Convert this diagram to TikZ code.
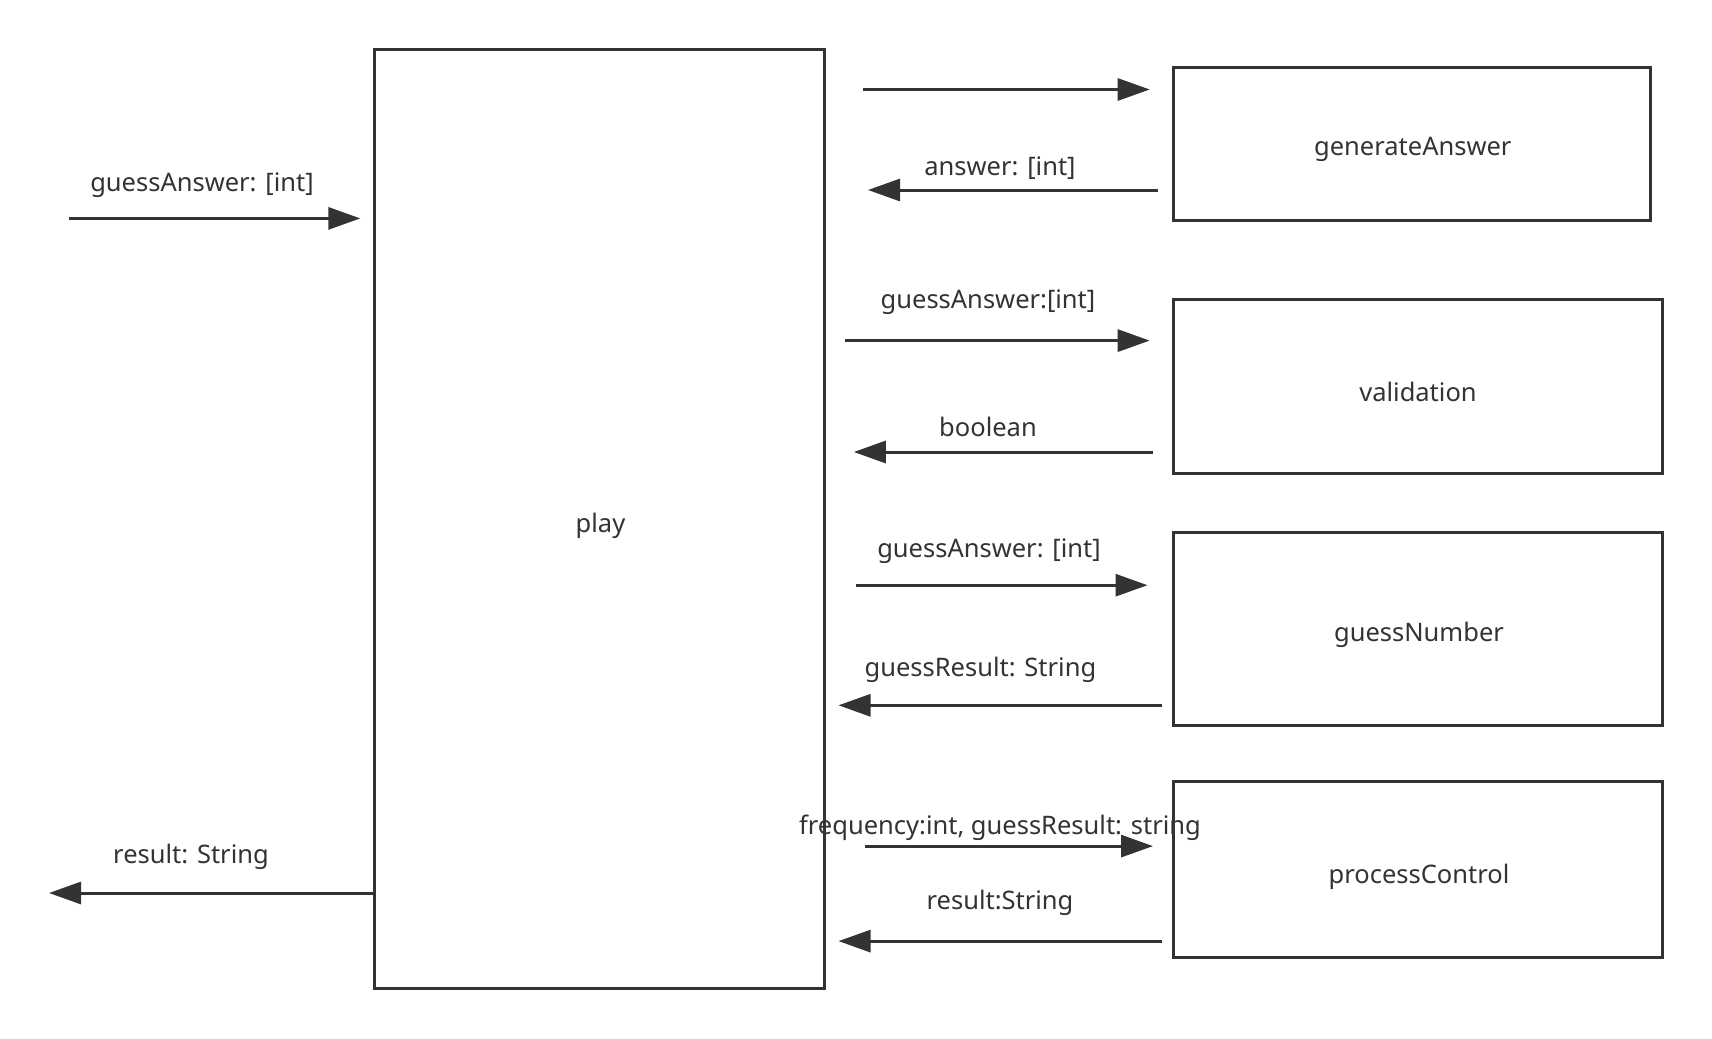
\documentclass[tikz,border=0pt]{standalone}
\usepackage{fontspec}
\setmainfont{Noto Sans}
\usetikzlibrary{arrows.meta}
\definecolor{ink}{HTML}{333333}
\begin{document}
\begin{tikzpicture}[x=1pt,y=-1pt,
  box/.style={draw=ink,line width=3pt,fill=none,inner sep=0pt,text=ink},
  flow/.style={draw=ink,line width=3pt,-{Triangle[length=32pt,width=22pt]}},
  lbl/.style={text=ink,inner sep=0pt,font=\fontsize{25.5}{30}\selectfont,yshift=-2.5pt}]
\useasboundingbox (0,0) rectangle (1712,1038);
% boxes
\node[box,minimum width=450pt,minimum height=939pt] (play) at (599.4,518.6) {};
\node[lbl] (playt) at (600.5,523) {play};
\node[box,minimum width=477pt,minimum height=153pt] (gen) at (1412.2,144.1) {};
\node[lbl] (gent) at (1412.8,147) {generateAnswer};
\node[box,minimum width=489pt,minimum height=174.6pt] (val) at (1418.2,386.5) {};
\node[lbl] (valt) at (1418,389.5) {validation};
\node[box,minimum width=489pt,minimum height=192.2pt] (gn) at (1418.2,628.9) {};
\node[lbl] (gnt) at (1419,632) {guessNumber};
\node[box,minimum width=489pt,minimum height=175.8pt] (pc) at (1418.2,869.6) {};
\node[lbl] (pct) at (1419,874) {processControl};
% arrow end points
\coordinate (inA) at (68.8,218.4);   \coordinate (inB) at (360.3,218.4);
\coordinate (g1a) at (862.5,89.5);   \coordinate (g1b) at (1149.7,89.5);
\coordinate (g2a) at (1158.4,190);   \coordinate (g2b) at (868,190);
\coordinate (v1a) at (845,340.6);    \coordinate (v1b) at (1149.7,340.6);
\coordinate (v2a) at (1153,452);     \coordinate (v2b) at (853.8,452);
\coordinate (n1a) at (856,585.2);    \coordinate (n1b) at (1147.5,585.2);
\coordinate (n2a) at (1161.7,705.3); \coordinate (n2b) at (838.5,705.3);
\coordinate (p1a) at (864.7,846.1);  \coordinate (p1b) at (1153,846.1);
\coordinate (p2a) at (1161.7,941.1); \coordinate (p2b) at (838.5,941.1);
\coordinate (outA) at (374.5,893);   \coordinate (outB) at (49,893);
% arrows
\draw[flow] (inA) -- (inB);
\draw[flow] (g1a) -- (g1b);
\draw[flow] (g2a) -- (g2b);
\draw[flow] (v1a) -- (v1b);
\draw[flow] (v2a) -- (v2b);
\draw[flow] (n1a) -- (n1b);
\draw[flow] (n2a) -- (n2b);
\draw[flow] (p1a) -- (p1b);
\draw[flow] (p2a) -- (p2b);
\draw[flow] (outA) -- (outB);
% labels
\node[lbl] (l1) at (202,183) {guessAnswer: [int]};
\node[lbl] (l2) at (1000,165.5) {answer: [int]};
\node[lbl] (l3) at (988,300) {guessAnswer:[int]};
\node[lbl] (l4) at (988,424.5) {boolean};
\node[lbl] (l5) at (989,549) {guessAnswer: [int]};
\node[lbl] (l6) at (980.4,667) {guessResult: String};
\node[lbl] (l7) at (1000,825) {frequency:int, guessResult: string};
\node[lbl] (l8) at (1000,900.5) {result:String};
\node[lbl] (l9) at (191,854.5) {result: String};
\end{tikzpicture}
\end{document}
